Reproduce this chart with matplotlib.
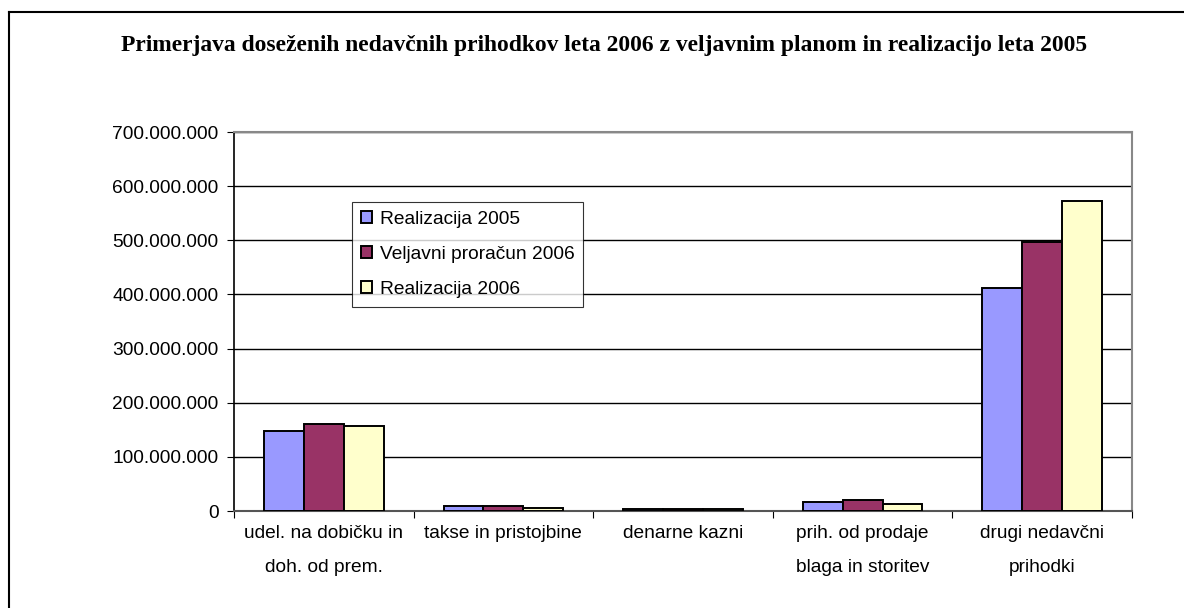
import numpy as np
import matplotlib.pyplot as plt
from matplotlib.lines import Line2D
from matplotlib.ticker import FuncFormatter

# values
categories = ["udel. na dobičku in\ndoh. od prem.", "takse in pristojbine", "denarne kazni",
              "prih. od prodaje\nblaga in storitev", "drugi nedavčni\nprihodki"]
real2005 = [147000000, 9000000, 3000000, 17000000, 412000000]
plan2006 = [161000000, 9000000, 3000000, 20000000, 496000000]
real2006 = [157000000, 6000000, 3000000, 13500000, 572000000]
seriesNames = ["Realizacija 2005", "Veljavni proračun 2006", "Realizacija 2006"]
colors = ["#9999FF", "#993366", "#FFFFCC"]

title = ("Primerjava doseženih nedavčnih prihodkov leta 2006 z veljavnim planom "
         "in realizacijo leta 2005")


def dotFormat(v, pos):
    return f"{int(v):,}".replace(",", ".")


def main():
    plt.rcParams['font.family'] = ['Liberation Sans', 'DejaVu Sans']
    fig = plt.figure(figsize=(11.84, 6.08), dpi=100)
    W, H = 1184, 608
    ax = fig.add_axes([234 / W, 1 - 511 / H, (1132 - 234) / W, (511 - 132) / H])

    x = np.arange(len(categories))
    barW = 0.667 / 3
    allSeries = [real2005, plan2006, real2006]
    for i, vals in enumerate(allSeries):
        ax.bar(x + (i - 1) * barW, vals, barW, color=colors[i], edgecolor="black",
               linewidth=1.4, label=seriesNames[i], zorder=3)

    ax.set_xlim(-0.5, len(categories) - 0.5)
    ax.set_ylim(0, 700000000)
    ax.set_yticks(np.arange(0, 700000001, 100000000))
    ax.yaxis.set_major_formatter(FuncFormatter(dotFormat))
    ax.yaxis.grid(True, color="black", linewidth=1, zorder=0)

    #   category ticks at the boundaries, labels centred
    ax.set_xticks(np.arange(-0.5, len(categories), 1.0))
    ax.set_xticklabels([])
    ax.set_xticks(x, minor=True)
    ax.set_xticklabels(categories, minor=True, fontsize=13.8, linespacing=2.35)
    ax.tick_params(axis="x", which="minor", length=0, pad=10)
    ax.tick_params(axis="x", which="major", length=5, direction="out", color="black")
    ax.tick_params(axis="y", length=5, direction="out", labelsize=13.8, pad=6)

    for s in ["top", "right"]:
        ax.spines[s].set_color("#888888")
        ax.spines[s].set_linewidth(1.5)
    ax.spines["left"].set_linewidth(1.2)
    ax.spines["bottom"].set_color("#555555")
    ax.spines["bottom"].set_linewidth(1.5)

    leg = ax.legend(loc="upper left", bbox_to_anchor=(352 / W, 1 - 202 / H),
                    bbox_transform=fig.transFigure, fontsize=13.8, frameon=True,
                    fancybox=False, edgecolor="black", borderaxespad=0,
                    handlelength=0.6, handleheight=0.6, handletextpad=0.4,
                    labelspacing=0.95, borderpad=0.45)
    leg.get_frame().set_linewidth(0.8)
    leg.set_zorder(5)

    fig.text(604 / W, 1 - 45 / H, title, ha="center", va="center",
             fontsize=16.9, fontweight="bold", family="Liberation Serif")

    #   outer chart border (left and top only visible)
    fig.add_artist(Line2D([9 / W, 9 / W], [0, 1 - 12 / H], color="black", linewidth=1.5))
    fig.add_artist(Line2D([9 / W, 1], [1 - 12 / H, 1 - 12 / H], color="black", linewidth=1.5))

    plt.savefig("out.png", dpi=100)


if __name__ == "__main__":
    main()
